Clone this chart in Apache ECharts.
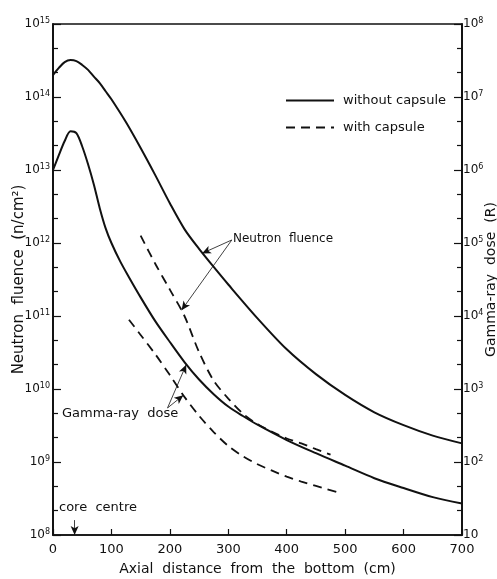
<!DOCTYPE html>
<html>
<head>
<meta charset="utf-8">
<script src="https://cdn.jsdelivr.net/npm/echarts@6/dist/echarts.min.js"></script>
<style>
html, body { margin: 0; padding: 0; background: #fff; }
#chart { width: 497px; height: 579px; }
</style>
</head>
<body>
<div id="chart"></div>
<script>
// axial distance (cm) and readings taken off the figure
const neutronX = [0, 10, 20, 30, 40, 50, 60, 70, 80, 90, 100, 125, 150, 175, 200, 225, 250, 275, 300, 350, 400, 450, 500, 550, 600, 650, 700]
const neutronBare = [2.0e14, 2.5e14, 3.0e14, 3.2e14, 3.1e14, 2.75e14, 2.35e14, 1.9e14, 1.55e14, 1.2e14, 9.3e13, 4.5e13, 2.0e13, 8.5e12, 3.5e12, 1.55e12, 8.3e11, 4.7e11, 2.7e11, 9.3e10, 3.5e10, 1.6e10, 8.3e9, 4.8e9, 3.2e9, 2.3e9, 1.8e9]

const gammaX = [0, 10, 20, 30, 40, 50, 60, 70, 80, 90, 100, 115, 130, 150, 175, 200, 225, 250, 275, 300, 325, 350, 400, 450, 500, 550, 600, 650, 700]
const gammaBare = [1.0e6, 1.6e6, 2.5e6, 3.4e6, 3.2e6, 2.1e6, 1.2e6, 6.3e5, 3.0e5, 1.6e5, 1.0e5, 5.6e4, 3.4e4, 1.8e4, 8.5e3, 4.4e3, 2.34e3, 1350, 850, 575, 427, 324, 200, 132, 89, 60, 44, 33, 27]

const neutronCapX = [150, 175, 200, 225, 250, 275, 300, 325, 350, 375, 400, 425, 450, 475]
const neutronCap = [1.26e12, 5.2e11, 2.3e11, 1.0e11, 3.2e10, 1.3e10, 7.4e9, 4.6e9, 3.3e9, 2.6e9, 2.1e9, 1.8e9, 1.5e9, 1.26e9]

const gammaCapX = [130, 150, 175, 200, 225, 250, 275, 300, 325, 350, 375, 400, 425, 450, 485]
const gammaCap = [8900, 5500, 3000, 1550, 780, 430, 257, 166, 120, 93, 76, 63, 54, 47, 39]

const seriesNames = ['without capsule', 'with capsule']

// decade ticks, two minor ticks per decade
const fluenceDecades = [8, 9, 10, 11, 12, 13, 14, 15]
const doseDecades = [1, 2, 3, 4, 5, 6, 7, 8]

const zip = (xs, ys) => xs.map((x, i) => [x, ys[i]])
// nudge the end decades a hair inside the extent so rounding never drops them
const decadeValues = (decades) => decades.map((e, i) => Math.pow(10, e) * (i === 0 ? 1.000001 : i === decades.length - 1 ? 0.999999 : 1))
const minorOf = (decades) => decades.slice(0, -1).flatMap(e => [Math.pow(10, e + 1 / 3), Math.pow(10, e + 2 / 3)])

const ink = '#111'
const font = 'DejaVu Sans'

const powLabel = (v) => {
    const e = Math.round(Math.log10(v))
    return e === 1 ? '{b|10}' : '{b|10}{s|' + e + '}'
}
const powRich = {
    b: { fontSize: 12, fontFamily: font, color: ink },
    s: { fontSize: 8, fontFamily: font, color: ink, verticalAlign: 'top', padding: [0, 0, 7, 0] }
}

const logAxis = (min, max, side) => ({
    type: 'log',
    logBase: 10,
    min: min,
    max: max,
    position: side,
    axisLine: { show: true, lineStyle: { color: ink, width: 1.5 } },
    splitLine: { show: false }
})

const arrow = (from, to) => [{ coord: from }, { coord: to }]
const arrowLines = (list) => ({
    silent: true,
    symbol: ['none', 'arrow'],
    symbolSize: [6, 9],
    label: { show: false },
    lineStyle: { color: ink, width: 0.8, type: 'solid' },
    data: list
})

const mychart = echarts.init(document.getElementById('chart'))
mychart.setOption({
    backgroundColor: '#fff',
    animation: false,
    grid: {
        left: 53,
        right: 35,
        top: 24,
        bottom: 44,
        outerBoundsMode: 'none',
        containLabel: false,
        show: true,
        borderColor: ink,
        borderWidth: 1.5
    },
    legend: {
        data: seriesNames,
        orient: 'vertical',
        left: 280,
        top: 89,
        itemWidth: 48,
        itemHeight: 10,
        itemGap: 14,
        itemStyle: { opacity: 0 },
        textStyle: { fontFamily: font, fontSize: 13, color: ink, padding: [0, 0, 0, 4] }
    },
    xAxis: {
        type: 'value',
        min: 0,
        max: 700,
        interval: 100,
        name: 'Axial  distance  from  the  bottom  (cm)',
        nameLocation: 'middle',
        nameGap: 27,
        nameTextStyle: { fontFamily: font, fontSize: 14, color: ink },
        axisLine: { lineStyle: { color: ink, width: 1.5 } },
        axisTick: { inside: true, length: 6, lineStyle: { color: ink, width: 1.2 } },
        axisLabel: { fontFamily: font, fontSize: 13, color: ink, margin: 8 },
        splitLine: { show: false }
    },
    yAxis: [
        Object.assign(logAxis(1e8, 1e15, 'left'), {
            name: 'Neutron  fluence  (n/cm²)',
            nameLocation: 'middle',
            nameRotate: 90,
            nameGap: 26,
            nameMoveOverlap: false,
            nameTextStyle: { fontFamily: font, fontSize: 15, color: ink },
            axisTick: { inside: true, length: 8, lineStyle: { color: ink, width: 1.2 }, customValues: decadeValues(fluenceDecades) },
            axisLabel: { formatter: powLabel, rich: powRich, margin: 3, showMinLabel: true, showMaxLabel: true, customValues: decadeValues(fluenceDecades) }
        }),
        Object.assign(logAxis(10, 1e8, 'right'), {
            name: 'Gamma-ray  dose  (R)',
            nameLocation: 'middle',
            nameRotate: 90,
            nameGap: 22,
            nameMoveOverlap: false,
            nameTextStyle: { fontFamily: font, fontSize: 14, color: ink },
            axisTick: { inside: true, length: 8, lineStyle: { color: ink, width: 1.2 }, customValues: decadeValues(doseDecades) },
            axisLabel: { formatter: powLabel, rich: powRich, margin: 1, showMinLabel: true, showMaxLabel: true, customValues: decadeValues(doseDecades) }
        }),
        // overlay axes carrying only the short minor ticks
        Object.assign(logAxis(1e8, 1e15, 'left'), {
            axisTick: { inside: true, length: 5, lineStyle: { color: ink, width: 1.2 }, customValues: minorOf(fluenceDecades) },
            axisLabel: { show: false }
        }),
        Object.assign(logAxis(10, 1e8, 'right'), {
            axisTick: { inside: true, length: 5, lineStyle: { color: ink, width: 1.2 }, customValues: minorOf(doseDecades) },
            axisLabel: { show: false }
        })
    ],
    graphic: [
        { type: 'text', left: 233, top: 233, style: { text: 'Neutron  fluence', font: '12px "DejaVu Sans"', fill: ink } },
        { type: 'text', left: 62, top: 407, style: { text: 'Gamma-ray  dose', font: '13px "DejaVu Sans"', fill: ink } },
        { type: 'text', left: 59, top: 501, style: { text: 'core  centre', font: '13px "DejaVu Sans"', fill: ink } }
    ],
    series: [
        {
            name: seriesNames[0],
            type: 'line',
            yAxisIndex: 0,
            data: zip(neutronX, neutronBare),
            smooth: 0.3,
            symbol: 'none',
            lineStyle: { color: ink, width: 2 },
            itemStyle: { color: ink },
            markLine: arrowLines([
                arrow([306, 1.1e12], [255, 7.2e11]),
                arrow([306, 1.1e12], [220, 1.2e11]),
                arrow([37, 1.6e8], [37, 1e8])
            ])
        },
        {
            name: seriesNames[0],
            type: 'line',
            yAxisIndex: 1,
            data: zip(gammaX, gammaBare),
            smooth: 0.3,
            symbol: 'none',
            lineStyle: { color: ink, width: 2 },
            itemStyle: { color: ink },
            markLine: arrowLines([
                arrow([196, 550], [228, 2150]),
                arrow([196, 550], [223, 820])
            ])
        },
        {
            name: seriesNames[1],
            type: 'line',
            yAxisIndex: 0,
            data: zip(neutronCapX, neutronCap),
            smooth: 0.3,
            symbol: 'none',
            lineStyle: { color: ink, width: 1.8, type: [9, 6] },
            itemStyle: { color: ink }
        },
        {
            name: seriesNames[1],
            type: 'line',
            yAxisIndex: 1,
            data: zip(gammaCapX, gammaCap),
            smooth: 0.3,
            symbol: 'none',
            lineStyle: { color: ink, width: 1.8, type: [9, 6] },
            itemStyle: { color: ink }
        }
    ]
})
</script>
</body>
</html>
